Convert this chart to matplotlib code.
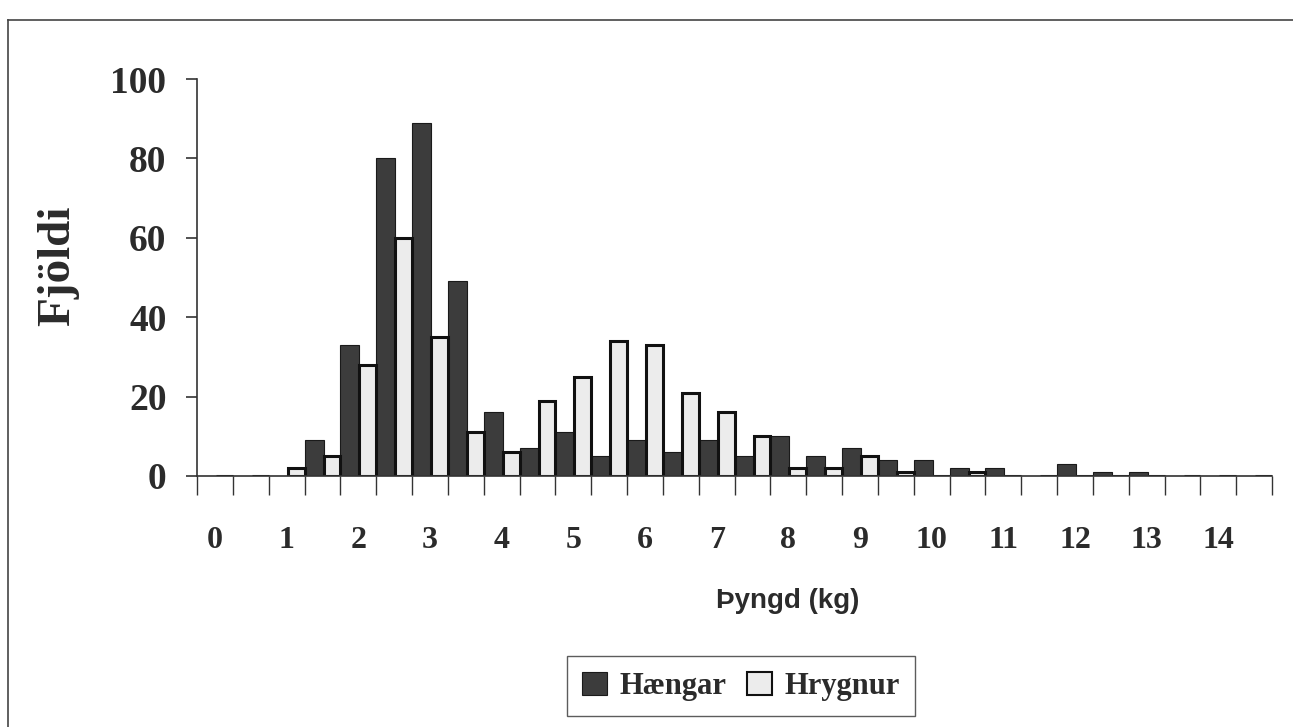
import matplotlib
matplotlib.use("Agg")
import matplotlib.pyplot as plt
from matplotlib.lines import Line2D
from matplotlib.patches import Patch
import numpy as np

# weight classes (kg), 0.5 kg steps
weights = [i * 0.5 for i in range(30)]
haengar = [0, 0, 0, 9, 33, 80, 89, 49, 16, 7, 11, 5, 9, 6, 9, 5,
           10, 5, 7, 4, 4, 2, 2, 0, 3, 1, 1, 0, 0, 0]
hrygnur = [0, 0, 2, 5, 28, 60, 35, 11, 6, 19, 25, 34, 33, 21, 16, 10,
           2, 2, 5, 1, 0, 1, 0, 0, 0, 0, 0, 0, 0, 0]
x_labels = [str(i) for i in range(15)]
y_ticks = [0, 20, 40, 60, 80, 100]

serif = "Liberation Serif"
txt = "#2b2b2b"
dark = "#3c3c3c"
light = "#ececec"

fig = plt.figure(figsize=(12.93, 7.27), dpi=100)
ax = fig.add_axes([0.1524, 0.3453, 0.8314, 0.546])

pos = np.arange(len(weights))
w_d = 0.53
w_l = 0.47
ax.bar(pos, haengar, width=w_d, align="edge", color=dark, edgecolor="#1a1a1a", linewidth=0.8)
ax.bar(pos + w_d, hrygnur, width=w_l, align="edge", color=light, edgecolor="#111111", linewidth=2.2)

ax.set_xlim(0, len(weights))
ax.set_ylim(0, 100)

for s in ["top", "right"]:
    ax.spines[s].set_visible(False)
ax.spines["left"].set_color("#333333")
ax.spines["bottom"].set_color("#333333")
ax.spines["left"].set_linewidth(1.2)
ax.spines["bottom"].set_linewidth(1.2)

ax.set_yticks(y_ticks)
ax.set_yticklabels([str(v) for v in y_ticks], fontfamily=serif, fontweight="bold",
                   fontsize=27, color=txt)
ax.tick_params(axis="y", direction="out", length=8, width=1.2, pad=14, colors="#333333")
for lab in ax.get_yticklabels():
    lab.set_color(txt)

# tick marks at category boundaries, labels at every second category
ax.set_xticks(np.arange(0, len(weights) + 1), minor=True)
ax.set_xticks(pos[::2] + 0.5)
ax.set_xticklabels(x_labels, fontfamily=serif, fontweight="bold", fontsize=23, color=txt)
ax.tick_params(axis="x", which="minor", direction="out", length=14, width=1.0, colors="#333333")
ax.tick_params(axis="x", which="major", length=0, pad=36)
for lab in ax.get_xticklabels():
    lab.set_color(txt)

fig.text(0.609, 0.174, "Þyngd (kg)", ha="center", va="center", fontfamily="Liberation Sans",
         fontweight="bold", fontsize=20, color=txt)
fig.text(0.045, 0.635, "Fjöldi", ha="center", va="center", rotation=90, fontfamily=serif,
         fontweight="bold", fontsize=34, color=txt)

handles = [Patch(facecolor=dark, edgecolor="#1a1a1a", linewidth=0.8),
           Patch(facecolor=light, edgecolor="#111111", linewidth=1.5)]
leg = fig.legend(handles, ["Hængar", "Hrygnur"], loc="center", bbox_to_anchor=(0.573, 0.056),
                 ncol=2, frameon=True, fancybox=False, handlelength=0.8, handleheight=0.8,
                 handletextpad=0.4, columnspacing=0.7, borderpad=0.5, borderaxespad=0,
                 prop={"family": serif, "weight": "bold", "size": 22})
leg.get_frame().set_edgecolor("#333333")
leg.get_frame().set_linewidth(1.0)
for t in leg.get_texts():
    t.set_color(txt)

# outer chart frame
fig.add_artist(Line2D([0.0062, 0.0062], [0.0, 0.9725], color="#444444", linewidth=1.2))
fig.add_artist(Line2D([0.0062, 1.0], [0.9725, 0.9725], color="#444444", linewidth=1.2))

fig.savefig("out.png", dpi=100)
